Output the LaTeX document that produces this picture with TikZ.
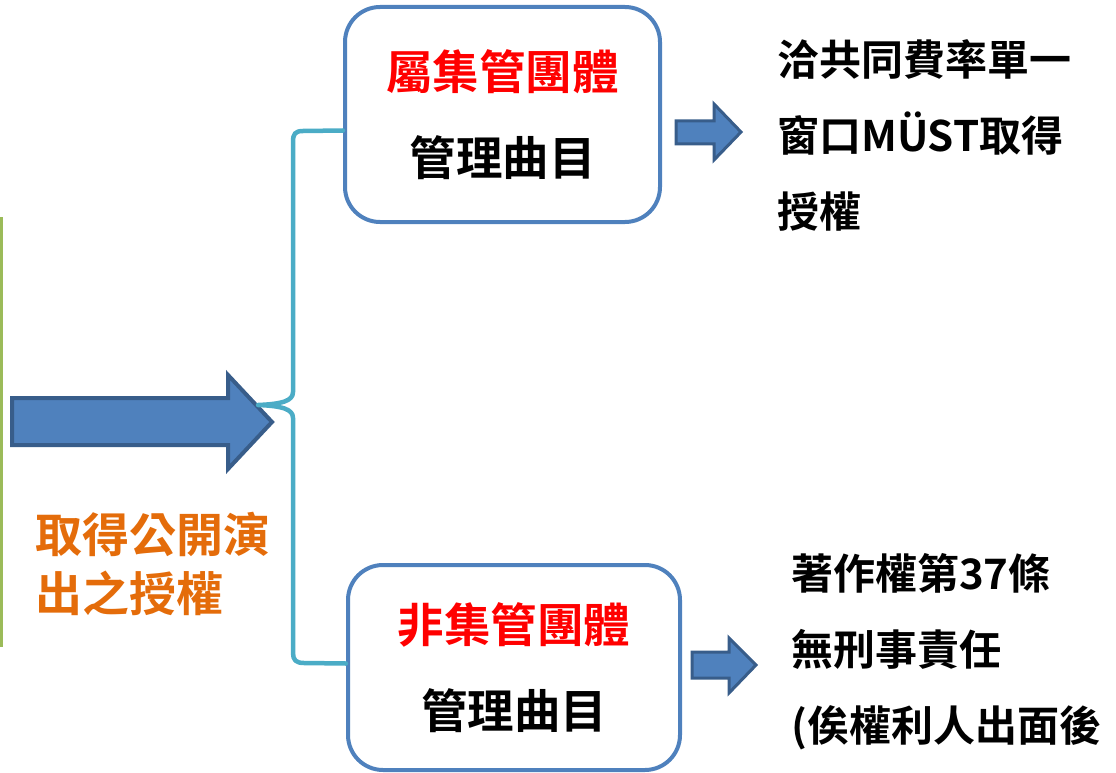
\documentclass[tikz,border=0pt]{standalone}
\usepackage{fontspec}
\setmainfont{Noto Sans CJK TC}[BoldFont={Noto Sans CJK TC Bold}]
\usetikzlibrary{calc}

\definecolor{boxblue}{HTML}{4F81BD}
\definecolor{arrowedge}{HTML}{385D8A}
\definecolor{bracecyan}{HTML}{4BACC6}
\definecolor{titleorange}{HTML}{E46C0A}
\definecolor{barGreen}{HTML}{9BBB59}

\begin{document}
\begin{tikzpicture}[x=1pt,y=-1pt,
    box/.style={draw=boxblue,line width=4pt,rounded corners=35pt,fill=white,
      align=center,inner sep=0pt,font=\bfseries\fontsize{46.5}{86}\selectfont},
    note/.style={align=left,inner sep=0pt,anchor=west,
      font=\bfseries\fontsize{42}{76}\selectfont},
    title/.style={align=left,inner sep=0pt,anchor=west,text=titleorange,
      font=\bfseries\fontsize{47}{59}\selectfont},
    blockarrow/.style={fill=boxblue,draw=arrowedge,line join=miter},
    brace/.style={draw=bracecyan,line width=4.5pt,line cap=round,line join=round}]
    \useasboundingbox (0,0) rectangle (1116,773);

    % left bar
    \draw[barGreen,line width=3pt] (1,217) -- (1,647);

    \node[box,minimum width=315pt,minimum height=215pt] (coll) at (502.5,114.5)
      {\textcolor{red}{屬集管團體}\\管理曲目};
    \node[box,minimum width=332pt,minimum height=205pt] (noncoll) at (514,667.5)
      {\textcolor{red}{非集管團體}\\管理曲目};

    \node[title] (ask) at (35,564) {取得公開演\\出之授權};
    \node[note] (must) at (777,135) {洽共同費率單一\\窗口MÜST取得\\授權};
    \node[note] (law) at (791,652) {著作權第37條\\無刑事責任\\(俟權利人出面後};

    % arrows
    \draw[blockarrow,line width=4pt] (12,398) -- (228,398) -- (228,375)
      -- (272,422) -- (228,469) -- (228,445) -- (12,445) -- cycle;
    \draw[blockarrow,line width=3pt] (676,121) -- (714,121) -- (714,104)
      -- (741,132) -- (714,160) -- (714,144) -- (676,144) -- cycle;
    \draw[blockarrow,line width=3pt] (692,652) -- (729,652) -- (729,638)
      -- (756,665) -- (729,693) -- (729,678) -- (692,678) -- cycle;

    % brace
    \coordinate (cusp) at (258,405);
    \draw[brace] ([yshift=-16pt]coll.west) -- (303,131)
      .. controls (295,131) and (293,134) .. (293,142) -- (293,392)
      .. controls (293,401) and (282,404) .. (cusp)
      .. controls (282,406) and (293,409) .. (293,418) -- (293,653)
      .. controls (293,660) and (296,663) .. (304,663) -- ([yshift=4pt]noncoll.west);
\end{tikzpicture}
\end{document}
